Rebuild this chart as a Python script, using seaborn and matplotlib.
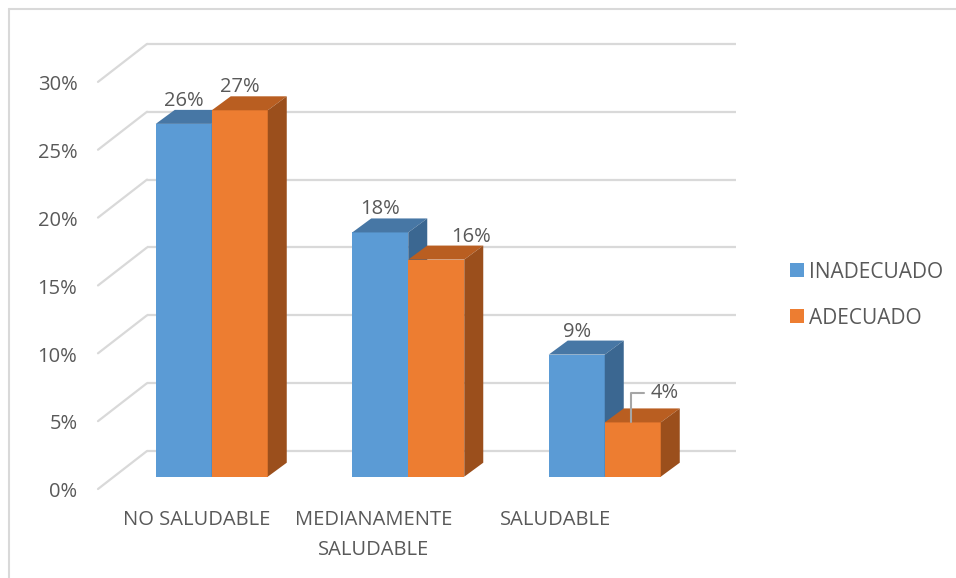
import matplotlib
matplotlib.use('Agg')
import pandas as pd
import seaborn as sns
import matplotlib.pyplot as plt
from matplotlib.patches import Polygon, Patch
from matplotlib.lines import Line2D
from matplotlib.ticker import PercentFormatter
import matplotlib.transforms as mtransforms

# data
categories = ['NO SALUDABLE', 'MEDIANAMENTE\nSALUDABLE', 'SALUDABLE']
series = ['INADECUADO', 'ADECUADO']
inadecuado = [26, 18, 9]
adecuado = [27, 16, 4]
yticks = [0, 5, 10, 15, 20, 25, 30]

front_colors = ['#5B9BD5', '#ED7D31']
top_colors = ['#4777A5', '#B95E21']
side_colors = ['#3B6791', '#9B4F1C']
grid_color = '#D9D9D9'
text_color = '#595959'
fs = 14.5

df = pd.DataFrame({
    'categoria': categories * 2,
    'serie': [series[0]] * 3 + [series[1]] * 3,
    'valor': inadecuado + adecuado,
})

sns.set_theme(style='white')
plt.rcParams['font.family'] = ['Open Sans', 'DejaVu Sans']

W, H = 956, 578
fig = plt.figure(figsize=(W / 100, H / 100), dpi=100)
fig.patch.set_facecolor('white')

# axes = plane of the bar fronts (pixel box)
left, right, bottom, top = 113.5, 703, 476.7, 69.6
ax = fig.add_axes([left / W, 1 - bottom / H, (right - left) / W, (bottom - top) / H])
ax.set_facecolor('none')

sns.barplot(data=df, x='categoria', y='valor', hue='serie', palette=front_colors,
            width=0.57, saturation=1, errorbar=None, linewidth=0, legend=False, ax=ax)
ax.set_xlim(-0.5, 2.5)
ax.set_ylim(0, 30)

# pixel -> data scale
sx = (right - left) / 3.0
sy = (bottom - top) / 30.0
depth = (19 / sx, 14 / sy)          # bar depth
front = (-15.5 / sx, -12.3 / sy)    # front edge of the floor/walls
back = (33.5 / sx, 25.7 / sy)       # back wall

# back wall gridlines and left wall diagonals
for v in yticks:
    ax.plot([-0.5 + back[0], 2.5 + back[0]], [v + back[1]] * 2, color=grid_color,
            lw=1.6, zorder=1, clip_on=False, solid_capstyle='butt')
    ax.plot([-0.5 + front[0], -0.5 + back[0]], [v + front[1], v + back[1]],
            color=grid_color, lw=1.6, zorder=1, clip_on=False)

# 3d faces + labels
for i, cont in enumerate(ax.containers):
    for j, bar in enumerate(cont):
        bar.set_zorder(3 + i)
        x0, w, h = bar.get_x(), bar.get_width(), bar.get_height()
        dx, dy = depth
        ax.add_patch(Polygon([(x0, h), (x0 + w, h), (x0 + w + dx, h + dy), (x0 + dx, h + dy)],
                             closed=True, facecolor=top_colors[i], lw=0, zorder=3 + i))
        ax.add_patch(Polygon([(x0 + w, 0), (x0 + w + dx, dy), (x0 + w + dx, h + dy), (x0 + w, h)],
                             closed=True, facecolor=side_colors[i], lw=0, zorder=3 + i))
        cx = x0 + w / 2
        label = f'{h:.0f}%'
        if i == 1 and j == 2:
            # moved label with leader line
            ax.plot([cx - 2 / sx, cx - 2 / sx, cx + 11 / sx], [h, h + 29 / sy, h + 29 / sy],
                    color='#A6A6A6', lw=1.5, zorder=6, clip_on=False)
            ax.text(cx + 18 / sx, h + 29 / sy, label, ha='left', va='center',
                    fontsize=fs, color=text_color, zorder=7)
        else:
            nudge = 35 / sx if (i == 1 and j == 1) else 0
            ax.text(cx + nudge, h + dy + 4 / sy, label, ha='center', va='baseline',
                    fontsize=fs, color=text_color, zorder=7)

# axis labels
ax.set_yticks(yticks)
ax.yaxis.set_major_formatter(PercentFormatter(100, decimals=0))
xpos = [(197 - left) / sx - 0.5, (373.5 - left) / sx - 0.5, (555.5 - left) / sx - 0.5]
ax.set_xticks(xpos, categories)
ax.tick_params(axis='y', length=0, pad=26, labelsize=fs, labelcolor=text_color)
ax.tick_params(axis='x', length=0, pad=24, labelsize=fs, labelcolor=text_color)
for t in ax.get_xticklabels():
    t.set_linespacing(1.65)
shift = mtransforms.ScaledTranslation(0, -13 / 100, fig.dpi_scale_trans)
for t in ax.get_yticklabels():
    t.set_transform(t.get_transform() + shift)
ax.set_xlabel('')
ax.set_ylabel('')
ax.grid(False)
for s in ax.spines.values():
    s.set_visible(False)

# legend
handles = [Patch(facecolor=c, edgecolor='none') for c in front_colors]
fig.legend(handles, series, loc='center left', bbox_to_anchor=(790 / W, 1 - 295 / H),
           frameon=False, borderpad=0, borderaxespad=0, handlelength=0.65, handleheight=0.65,
           handletextpad=0.25, labelspacing=1.2, fontsize=15, labelcolor=text_color)

# chart border (left and top visible)
fig.add_artist(Line2D([9 / W, 9 / W], [0, 1 - 8.5 / H], color=grid_color, lw=1.5))
fig.add_artist(Line2D([9 / W, 1], [1 - 8.5 / H, 1 - 8.5 / H], color=grid_color, lw=1.5))

fig.savefig('out.png', dpi=100)
